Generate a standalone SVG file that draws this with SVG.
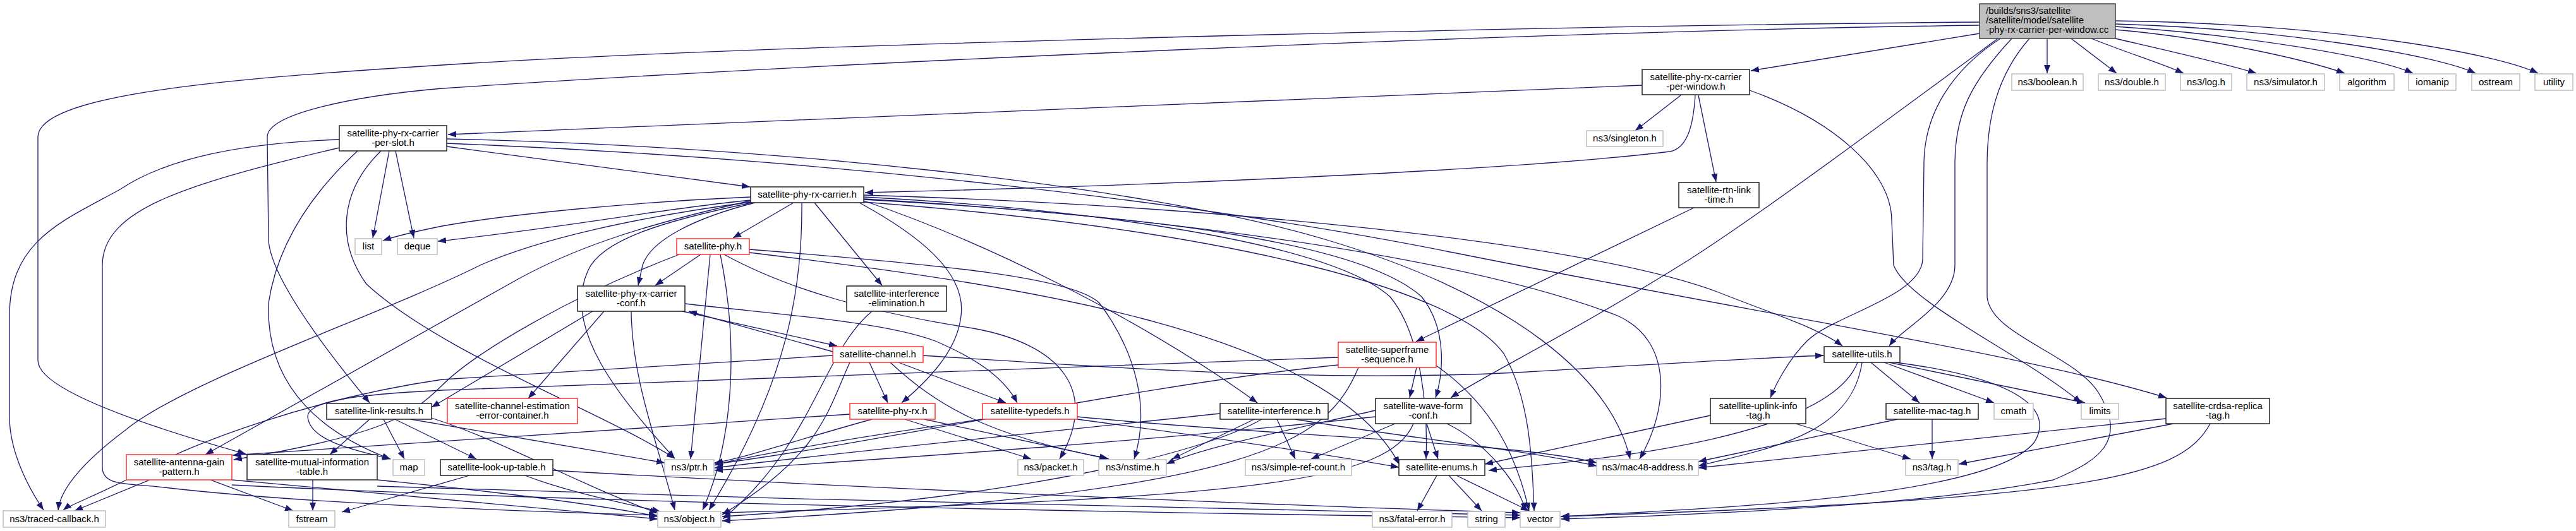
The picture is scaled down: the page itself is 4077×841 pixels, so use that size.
<svg xmlns="http://www.w3.org/2000/svg" width="4077" height="841" viewBox="0 0 4077 841">
<style>
.n rect{fill:#fff;stroke:#222;stroke-width:1.5}
.x rect{fill:#fff;stroke:#bfbfbf;stroke-width:1.5}
.r rect{fill:#fff;stroke:#ff3030;stroke-width:1.5}
.t rect{fill:#bfbfbf;stroke:#404040;stroke-width:1.5}
text{font-family:"Liberation Sans",Arial,sans-serif;font-size:15px;fill:#000;text-anchor:middle}
.t text{text-anchor:start}
#edges path{fill:none;stroke:#191970;stroke-width:1.3;marker-end:url(#a)}
</style>
<defs>
<marker id="a" markerWidth="13" markerHeight="10" refX="13" refY="5" orient="auto" markerUnits="userSpaceOnUse"><path d="M0,0 L13,5 L0,10 z" fill="#191970"/></marker>
</defs>
<rect width="4077" height="841" fill="#fff"/>
<g id="edges">
<path d="M3133,53 L2771,112"/>
<path d="M3240,61 L3240,116"/>
<path d="M3278,61 L3350,116"/>
<path d="M3310,61 C3370,85 3420,100 3456,116"/>
<path d="M3348,61 C3430,80 3520,100 3571,116"/>
<path d="M3348,47 C3500,60 3650,95 3711,116"/>
<path d="M3348,42 C3550,55 3760,90 3819,116"/>
<path d="M3348,38 C3600,45 3850,85 3918,116"/>
<path d="M3348,33 C3700,38 3950,85 4017,116"/>
<path d="M3133,35 C2500,40 1200,70 700,103 C350,125 60,150 60,217 L60,571 C60,620 250,680 389,719"/>
<path d="M3133,40 C2400,50 1300,100 700,140 C560,152 423,180 423,217 L425,380 C428,440 520,560 585,638"/>
<path d="M3162,61 C3000,180 2800,330 2674,411 C2500,520 2340,600 2296,630"/>
<path d="M3166,61 C3090,110 3045,180 3045,260 L3043,411 C3040,470 2900,500 2860,540 C2830,570 2810,610 2802,630"/>
<path d="M3184,61 C3120,130 3094,180 3094,260 L3094,420 C3094,480 3010,520 2990,548"/>
<path d="M3212,61 C3160,120 3145,190 3145,260 L3145,470 C3150,530 3280,560 3320,620 C3370,700 3320,730 3250,760 C3050,800 2700,815 2471,822"/>
<path d="M2769,143 C2900,190 2994,270 2994,350 L2997,420 C3020,480 3200,560 3294,638"/>
<path d="M2599,135 C2000,158 1200,195 709,213"/>
<path d="M2660,151 L2588,207"/>
<path d="M2688,151 L2716,288"/>
<path d="M2683,151 C2680,200 2670,235 2643,240 C2400,270 1800,295 1369,305"/>
<path d="M2681,329 L2241,541"/>
<path d="M616,239 L590,377"/>
<path d="M626,239 L655,377"/>
<path d="M707,232 L1187,296"/>
<path d="M537,221 C350,228 250,260 190,300 C100,350 15,380 15,500 L15,660 C15,720 50,780 69,808"/>
<path d="M537,234 C300,290 162,330 162,420 L162,740 C162,770 200,765 260,772 C500,800 900,812 1040,816"/>
<path d="M603,239 C540,300 530,380 580,450 C700,560 950,650 1068,726"/>
<path d="M566,239 C500,300 440,380 425,480 C420,620 520,690 618,727"/>
<path d="M707,220 C1200,230 1800,290 2100,380 C2400,470 2550,600 2580,727"/>
<path d="M707,227 C1300,250 1900,320 2300,400 C2800,500 3200,560 3429,630"/>
<path d="M1188,312 C1000,320 800,340 700,358 C660,366 630,373 606,381"/>
<path d="M1188,317 C1050,330 900,360 693,382"/>
<path d="M1256,321 L1160,377"/>
<path d="M1188,320 C1000,345 850,380 760,420 C600,500 300,600 200,680 C120,740 95,780 92,808"/>
<path d="M1188,318 C1000,360 900,398 820,442 L325,720"/>
<path d="M1190,321 C1050,350 950,380 930,430 C890,520 980,630 1068,726"/>
<path d="M1195,321 C1100,345 1030,380 1017,420 L1010,452"/>
<path d="M1289,321 L1396,452"/>
<path d="M1269,321 C1270,450 1250,600 1122,808"/>
<path d="M1360,321 C1450,370 1530,430 1521,500 C1515,560 1460,610 1427,638"/>
<path d="M1367,318 C1550,380 1800,500 1990,638"/>
<path d="M1367,312 C1700,330 2100,380 2200,470 C2250,530 2260,650 2257,727"/>
<path d="M1367,316 C1800,340 2150,380 2250,470 C2290,520 2285,590 2272,630"/>
<path d="M1367,315 C1800,340 2300,400 2560,500 C2650,540 2640,650 2595,727"/>
<path d="M1367,309 C1900,325 2500,380 2720,463 C2800,495 2880,520 2916,548"/>
<path d="M1367,320 C1900,360 2300,450 2380,560 C2420,630 2425,720 2428,809"/>
<path d="M2118,566 C1800,575 1400,590 700,618 C560,625 487,635 487,660 C490,700 570,715 618,727"/>
<path d="M1075,403 C900,470 750,560 700,610 C650,660 600,690 370,728"/>
<path d="M1109,403 L1037,452"/>
<path d="M1124,403 L1093,727"/>
<path d="M1140,403 C1170,550 1160,700 1112,808"/>
<path d="M1146,403 C1250,460 1380,495 1540,520 C1680,545 1740,620 1677,727"/>
<path d="M1186,395 C1500,420 1700,440 1740,480 C1800,560 1820,650 1795,727"/>
<path d="M1186,400 C1600,450 2100,520 2215,736"/>
<path d="M1084,481 C1250,500 1400,510 1480,540 C1550,570 1590,600 1610,638"/>
<path d="M956,493 L836,631"/>
<path d="M938,493 L683,645"/>
<path d="M999,493 C1000,600 1040,700 1068,808"/>
<path d="M1080,493 L1325,548"/>
<path d="M1318,557 L1090,493"/>
<path d="M1318,563 L700,601 C500,630 300,700 200,760 C140,790 110,800 100,808"/>
<path d="M1345,574 C1310,650 1300,720 1143,815"/>
<path d="M1376,574 L1405,638"/>
<path d="M1422,574 L1592,638"/>
<path d="M1409,574 C1480,640 1560,690 1753,726"/>
<path d="M1461,563 C1800,585 2100,605 2400,590 C2600,578 2800,566 2886,563"/>
<path d="M1380,493 C1300,560 1290,700 1144,822"/>
<path d="M1432,664 L1632,727"/>
<path d="M1463,664 L1755,727"/>
<path d="M1345,656 L368,721"/>
<path d="M1380,664 C1250,700 1180,725 1131,733"/>
<path d="M1555,664 C1300,700 1150,730 1131,737"/>
<path d="M1705,660 C2000,690 2400,700 2527,733"/>
<path d="M1705,664 C1900,690 2100,720 2214,740"/>
<path d="M1985,664 L1855,727"/>
<path d="M2021,664 L2050,727"/>
<path d="M1997,664 C1900,720 1600,790 1143,818"/>
<path d="M2050,664 C2200,690 2400,710 2527,738"/>
<path d="M1931,655 C1600,690 1300,720 1131,741"/>
<path d="M2242,582 L2231,630"/>
<path d="M2118,578 C1800,610 1400,700 1131,735"/>
<path d="M2150,582 C2100,700 2000,780 1143,825"/>
<path d="M2273,579 C2360,640 2400,720 2420,809"/>
<path d="M2258,671 L2276,727"/>
<path d="M2208,671 L2075,727"/>
<path d="M2237,671 C2200,760 2000,790 1143,812"/>
<path d="M2177,650 C2000,690 1900,710 1846,735"/>
<path d="M2177,660 C1800,700 1500,720 1131,745"/>
<path d="M2290,671 C2350,700 2400,760 2415,809"/>
<path d="M2274,753 L2243,809"/>
<path d="M2293,753 L2345,809"/>
<path d="M2305,753 L2420,809"/>
<path d="M2961,574 L3038,638"/>
<path d="M2982,574 L3156,638"/>
<path d="M2990,574 L3300,638"/>
<path d="M2940,574 C2890,700 2500,730 2356,745"/>
<path d="M2947,574 C2930,690 2800,710 2688,738"/>
<path d="M3000,574 C3200,600 3250,650 3220,700 C3150,790 2700,805 2470,818"/>
<path d="M3058,664 L3058,727"/>
<path d="M3003,664 L2688,731"/>
<path d="M2842,671 L3024,727"/>
<path d="M2707,658 L2350,735"/>
<path d="M3440,671 L3100,735"/>
<path d="M3428,663 L2688,741"/>
<path d="M3498,671 C3450,760 3300,790 2471,818"/>
<path d="M495,760 L495,809"/>
<path d="M597,760 C800,780 950,800 1041,818"/>
<path d="M597,770 C1200,790 2000,810 2406,816"/>
<path d="M237,760 L118,809"/>
<path d="M333,760 L464,809"/>
<path d="M367,760 C700,790 900,810 1041,822"/>
<path d="M367,768 C1000,800 2000,815 2406,820"/>
<path d="M743,753 L541,811"/>
<path d="M831,753 C900,780 1000,800 1045,810"/>
<path d="M875,745 C1300,770 2000,800 2406,812"/>
<path d="M585,664 L522,720"/>
<path d="M607,664 L640,727"/>
<path d="M625,664 L754,727"/>
<path d="M650,664 L1052,733"/>
<path d="M683,662 C800,700 900,760 1041,813"/>
</g>
<g id="T" class="t"><rect x="3133" y="6" width="215" height="55"/><text x="3143" y="22">/builds/sns3/satellite</text><text x="3143" y="37">/satellite/model/satellite</text><text x="3143" y="52">-phy-rx-carrier-per-window.cc</text></g>
<g id="PW" class="n"><rect x="2599" y="110" width="170" height="40"/><text x="2684" y="127">satellite-phy-rx-carrier</text><text x="2684" y="142">-per-window.h</text></g>
<g id="PS" class="n"><rect x="537" y="199" width="170" height="40"/><text x="622" y="216">satellite-phy-rx-carrier</text><text x="622" y="231">-per-slot.h</text></g>
<g id="PRC" class="n"><rect x="1188" y="296" width="179" height="25"/><text x="1277.5" y="313">satellite-phy-rx-carrier.h</text></g>
<g id="SING" class="x"><rect x="2511" y="207" width="121" height="25"/><text x="2571.5" y="224">ns3/singleton.h</text></g>
<g id="RTN" class="n"><rect x="2657" y="289" width="127" height="40"/><text x="2720.5" y="306">satellite-rtn-link</text><text x="2720.5" y="321">-time.h</text></g>
<g id="BOOL" class="x"><rect x="3184" y="117" width="113" height="26"/><text x="3240.5" y="135">ns3/boolean.h</text></g>
<g id="DBL" class="x"><rect x="3321" y="117" width="106" height="26"/><text x="3374" y="135">ns3/double.h</text></g>
<g id="LOG" class="x"><rect x="3451" y="117" width="81" height="26"/><text x="3491.5" y="135">ns3/log.h</text></g>
<g id="SIM" class="x"><rect x="3556" y="117" width="123" height="26"/><text x="3617.5" y="135">ns3/simulator.h</text></g>
<g id="ALG" class="x"><rect x="3703" y="117" width="86" height="26"/><text x="3746" y="135">algorithm</text></g>
<g id="IOM" class="x"><rect x="3812" y="117" width="75" height="26"/><text x="3849.5" y="135">iomanip</text></g>
<g id="OST" class="x"><rect x="3912" y="117" width="76" height="26"/><text x="3950" y="135">ostream</text></g>
<g id="UTIL" class="x"><rect x="4012" y="117" width="60" height="26"/><text x="4042" y="135">utility</text></g>
<g id="LIST" class="x"><rect x="562" y="378" width="42" height="25"/><text x="583" y="395">list</text></g>
<g id="DEQUE" class="x"><rect x="629" y="378" width="63" height="25"/><text x="660.5" y="395">deque</text></g>
<g id="PHY" class="r"><rect x="1071" y="378" width="115" height="25"/><text x="1128.5" y="395">satellite-phy.h</text></g>
<g id="CONF" class="n"><rect x="914" y="453" width="170" height="40"/><text x="999" y="470">satellite-phy-rx-carrier</text><text x="999" y="485">-conf.h</text></g>
<g id="IE" class="n"><rect x="1340" y="453" width="158" height="40"/><text x="1419" y="470">satellite-interference</text><text x="1419" y="485">-elimination.h</text></g>
<g id="CH" class="r"><rect x="1318" y="549" width="143" height="25"/><text x="1389.5" y="566">satellite-channel.h</text></g>
<g id="SS" class="r"><rect x="2118" y="542" width="155" height="40"/><text x="2195.5" y="559">satellite-superframe</text><text x="2195.5" y="574">-sequence.h</text></g>
<g id="UTILS" class="n"><rect x="2887" y="549" width="120" height="25"/><text x="2947" y="566">satellite-utils.h</text></g>
<g id="LR" class="n"><rect x="517" y="639" width="166" height="25"/><text x="600" y="656">satellite-link-results.h</text></g>
<g id="CEE" class="r"><rect x="708" y="631" width="206" height="40"/><text x="811" y="648">satellite-channel-estimation</text><text x="811" y="663">-error-container.h</text></g>
<g id="PRX" class="r"><rect x="1345" y="639" width="135" height="25"/><text x="1412.5" y="656">satellite-phy-rx.h</text></g>
<g id="TD" class="r"><rect x="1555" y="639" width="150" height="25"/><text x="1630" y="656">satellite-typedefs.h</text></g>
<g id="INTF" class="n"><rect x="1931" y="639" width="171" height="25"/><text x="2016.5" y="656">satellite-interference.h</text></g>
<g id="WF" class="n"><rect x="2177" y="631" width="151" height="40"/><text x="2252.5" y="648">satellite-wave-form</text><text x="2252.5" y="663">-conf.h</text></g>
<g id="UIT" class="n"><rect x="2707" y="631" width="151" height="40"/><text x="2782.5" y="648">satellite-uplink-info</text><text x="2782.5" y="663">-tag.h</text></g>
<g id="MAC" class="n"><rect x="2985" y="639" width="146" height="25"/><text x="3058" y="656">satellite-mac-tag.h</text></g>
<g id="CMATH" class="x"><rect x="3156" y="639" width="62" height="25"/><text x="3187" y="656">cmath</text></g>
<g id="LIMITS" class="x"><rect x="3294" y="639" width="59" height="25"/><text x="3323.5" y="656">limits</text></g>
<g id="CRDSA" class="n"><rect x="3428" y="631" width="164" height="40"/><text x="3510" y="648">satellite-crdsa-replica</text><text x="3510" y="663">-tag.h</text></g>
<g id="AGP" class="r"><rect x="200" y="720" width="167" height="40"/><text x="283.5" y="737">satellite-antenna-gain</text><text x="283.5" y="752">-pattern.h</text></g>
<g id="MIT" class="n"><rect x="391" y="720" width="206" height="40"/><text x="494" y="737">satellite-mutual-information</text><text x="494" y="752">-table.h</text></g>
<g id="MAP" class="x"><rect x="622" y="728" width="50" height="25"/><text x="647" y="745">map</text></g>
<g id="LUT" class="n"><rect x="697" y="728" width="178" height="25"/><text x="786" y="745">satellite-look-up-table.h</text></g>
<g id="PTR" class="x"><rect x="1052" y="728" width="78" height="25"/><text x="1091" y="745">ns3/ptr.h</text></g>
<g id="PACKET" class="x"><rect x="1611" y="728" width="104" height="25"/><text x="1663" y="745">ns3/packet.h</text></g>
<g id="NSTIME" class="x"><rect x="1739" y="728" width="107" height="25"/><text x="1792.5" y="745">ns3/nstime.h</text></g>
<g id="SRC" class="x"><rect x="1971" y="728" width="168" height="25"/><text x="2055" y="745">ns3/simple-ref-count.h</text></g>
<g id="ENUMS" class="n"><rect x="2214" y="728" width="136" height="25"/><text x="2282" y="745">satellite-enums.h</text></g>
<g id="MAC48" class="x"><rect x="2527" y="728" width="161" height="25"/><text x="2607.5" y="745">ns3/mac48-address.h</text></g>
<g id="TAG" class="x"><rect x="3016" y="728" width="83" height="25"/><text x="3057.5" y="745">ns3/tag.h</text></g>
<g id="TCB" class="x"><rect x="5" y="809" width="162" height="26"/><text x="86" y="827">ns3/traced-callback.h</text></g>
<g id="FSTREAM" class="x"><rect x="457" y="809" width="73" height="26"/><text x="493.5" y="827">fstream</text></g>
<g id="OBJECT" class="x"><rect x="1041" y="810" width="100" height="25"/><text x="1091" y="827">ns3/object.h</text></g>
<g id="FATAL" class="x"><rect x="2172" y="810" width="126" height="25"/><text x="2235" y="827">ns3/fatal-error.h</text></g>
<g id="STRING" class="x"><rect x="2323" y="810" width="59" height="25"/><text x="2352.5" y="827">string</text></g>
<g id="VECTOR" class="x"><rect x="2406" y="810" width="63" height="25"/><text x="2437.5" y="827">vector</text></g>
</svg>
